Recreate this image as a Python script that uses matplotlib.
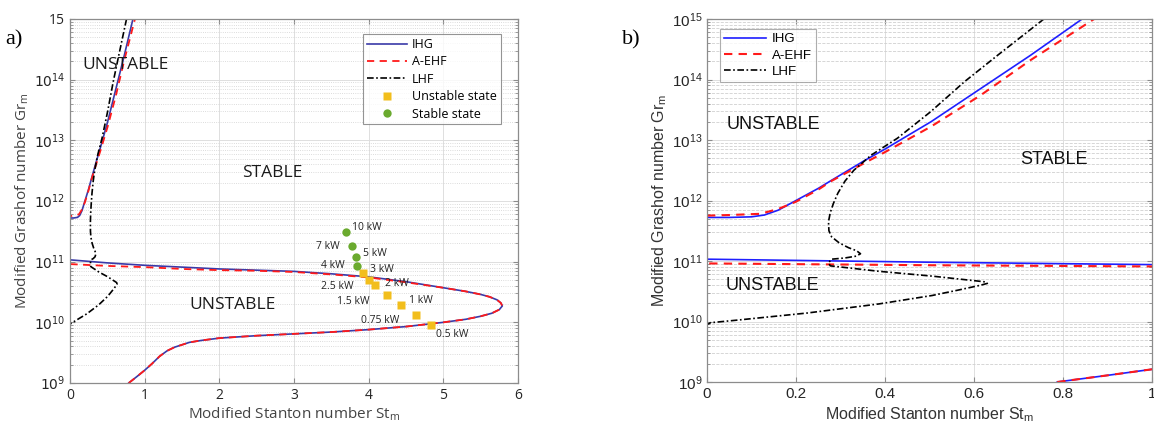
import matplotlib
matplotlib.use("Agg")
import matplotlib.pyplot as plt
import numpy as np
from matplotlib.ticker import LogLocator, NullFormatter, FixedLocator

# ---- data (St_m, log10 Gr_m) ----
ihg_st = [0.787, 0.9, 1.0, 1.1, 1.2, 1.3, 1.4, 1.5, 1.6, 1.75, 2.0, 2.5, 3.0, 3.5, 4.0, 4.5,
          5.0, 5.3, 5.5, 5.65, 5.75, 5.79, 5.77, 5.72, 5.62, 5.5, 5.3, 5.0, 4.5, 4.0, 3.5,
          3.0, 2.5, 2.0, 1.5, 1.0, 0.5, 0.0, 0.0, 0.05, 0.1, 0.129, 0.16, 0.2,
          0.25, 0.279, 0.354, 0.4, 0.503, 0.615, 0.727, 0.843]
ihg_lg = [9.0, 9.11, 9.21, 9.32, 9.44, 9.53, 9.59, 9.63, 9.67, 9.70, 9.74, 9.78, 9.81, 9.84,
          9.88, 9.93, 10.0, 10.05, 10.10, 10.15, 10.21, 10.27, 10.32, 10.37, 10.42, 10.46, 10.51,
          10.57, 10.67, 10.75, 10.80, 10.84, 10.86, 10.88, 10.91, 10.94, 10.98, 11.03, 11.72,
          11.72, 11.73, 11.76, 11.84, 12.0, 12.2, 12.33, 12.66, 12.85, 13.30, 13.85, 14.40, 15.0]

aehf_st = [0.787, 0.9, 1.0, 1.1, 1.2, 1.3, 1.4, 1.5, 1.6, 1.75, 2.0, 2.5, 3.0, 3.5, 4.0, 4.5,
           5.0, 5.3, 5.5, 5.65, 5.75, 5.79, 5.77, 5.72, 5.62, 5.5, 5.3, 5.0, 4.5, 4.0, 3.5,
           3.0, 2.5, 2.0, 1.5, 1.0, 0.5, 0.0, 0.0, 0.05, 0.12, 0.16, 0.2,
           0.25, 0.279, 0.354, 0.4, 0.503, 0.615, 0.727, 0.87]
aehf_lg = [9.0, 9.11, 9.21, 9.32, 9.44, 9.53, 9.59, 9.63, 9.67, 9.70, 9.74, 9.78, 9.81, 9.84,
           9.88, 9.93, 10.0, 10.05, 10.10, 10.15, 10.21, 10.27, 10.32, 10.37, 10.42, 10.46, 10.51,
           10.57, 10.66, 10.74, 10.79, 10.83, 10.85, 10.86, 10.88, 10.91, 10.93, 10.96, 11.75,
           11.76, 11.78, 11.86, 11.98, 12.18, 12.32, 12.62, 12.80, 13.22, 13.74, 14.32, 15.0]

lhf_st = [0.757, 0.653, 0.578, 0.503, 0.428, 0.369, 0.33, 0.31, 0.294, 0.284, 0.277, 0.273,
          0.274, 0.28, 0.297, 0.318, 0.336, 0.345, 0.335, 0.31, 0.28, 0.273, 0.277, 0.386,
          0.506, 0.594, 0.625, 0.63, 0.615, 0.565, 0.506, 0.386, 0.225, 0.064, 0.008, 0.0, 0.0]
lhf_lg = [15.0, 14.40, 13.96, 13.47, 13.03, 12.75, 12.5, 12.32, 12.12, 11.95, 11.8, 11.65,
          11.5, 11.4, 11.30, 11.22, 11.17, 11.12, 11.08, 11.05, 11.03, 10.97, 10.92, 10.83,
          10.75, 10.68, 10.655, 10.63, 10.6, 10.52, 10.43, 10.29, 10.14, 10.02, 9.98, 9.95, 9.0]

stable_st = [3.69, 3.78, 3.83, 3.84]
stable_gr = [3.1e11, 1.8e11, 1.2e11, 8.6e10]
stable_lab = ["10 kW", "7 kW", "5 kW", "4 kW"]

unstable_st = [3.92, 4.00, 4.09, 4.25, 4.43, 4.63, 4.84]
unstable_gr = [6.4e10, 5.0e10, 4.1e10, 2.8e10, 1.96e10, 1.3e10, 9.1e9]
unstable_lab = ["3 kW", "2.5 kW", "2 kW", "1.5 kW", "1 kW", "0.75 kW", "0.5 kW"]

# label offsets in pixels (style only)
stable_off = [(6, 4, "left"), (-12, 0, "right"), (7, 3, "left"), (-12, 0, "right")]
unstable_off = [(7, 4, "left"), (-15, -7, "right"), (10, 2, "left"), (-18, -6, "right"),
                (8, 4, "left"), (-16, -5, "right"), (5, -10, "left")]

BLUE_A = "#3a3aa8"
BLUE_B = "#1f1fff"
RED = "#ff1a1a"
YELLOW = "#f2be1c"
GREEN = "#6aaa2e"
SPINE = "#8c8c8c"

fig = plt.figure(figsize=(11.54, 4.33), dpi=100)
ax1 = fig.add_axes([70 / 1154, 1 - 383 / 433, 448 / 1154, 364 / 433])
ax2 = fig.add_axes([707 / 1154, 1 - 382 / 433, 445 / 1154, 363 / 433])

ihg_gr = 10 ** np.array(ihg_lg)
aehf_gr = 10 ** np.array(aehf_lg)
lhf_gr = 10 ** np.array(lhf_lg)


def style_axes(ax, font, fsize, minor_ls):
    ax.set_yscale("log")
    ax.set_ylim(1e9, 1e15)
    for s in ax.spines.values():
        s.set_color(SPINE)
        s.set_linewidth(0.9)
    ax.tick_params(which="both", direction="in", top=True, right=True, colors=SPINE,
                   labelcolor="#262626", labelsize=fsize)
    ax.yaxis.set_major_locator(FixedLocator([1e9, 1e10, 1e11, 1e12, 1e13, 1e14, 1e15]))
    ax.yaxis.set_minor_locator(LogLocator(base=10, subs=np.arange(2, 10), numticks=20))
    ax.yaxis.set_minor_formatter(NullFormatter())
    ax.grid(True, which="major", color="#dedede", lw=0.7)
    ax.grid(True, which="minor", axis="y", color="#d0d0d0", lw=0.6, ls=minor_ls)
    ax.set_axisbelow(True)
    for lab in ax.get_xticklabels() + ax.get_yticklabels():
        lab.set_family(font)


# ---- panel a ----
ax1.plot(ihg_st, ihg_gr, color=BLUE_A, lw=1.2, label="IHG")
ax1.plot(aehf_st, aehf_gr, color=RED, lw=1.3, ls=(0, (4, 3)), label="A-EHF")
ax1.plot(lhf_st, lhf_gr, color="black", lw=1.2, ls=(0, (4, 1.5, 1, 1.5)), label="LHF")
ax1.plot(unstable_st, unstable_gr, "s", color=YELLOW, ms=5.5, mec="none", label="Unstable state")
ax1.plot(stable_st, stable_gr, "o", color=GREEN, ms=6, mec="none", label="Stable state")
for x, y, t, (dx, dy, ha) in zip(stable_st, stable_gr, stable_lab, stable_off):
    ax1.annotate(t, (x, y), xytext=(dx, dy), textcoords="offset pixels", ha=ha, va="center",
                 fontsize=7.5, family="Open Sans", color="#222222")
for x, y, t, (dx, dy, ha) in zip(unstable_st, unstable_gr, unstable_lab, unstable_off):
    ax1.annotate(t, (x, y), xytext=(dx, dy), textcoords="offset pixels", ha=ha, va="center",
                 fontsize=7.5, family="Open Sans", color="#222222")
ax1.set_xlim(0, 6)
ax1.set_xticks([0, 1, 2, 3, 4, 5, 6])
style_axes(ax1, "Open Sans", 10, ":")
ax1.set_yticklabels(["$10^{9}$", "$10^{10}$", "$10^{11}$", "$10^{12}$", "$10^{13}$",
                     "$10^{14}$", "15"])
for lab in ax1.get_yticklabels():
    lab.set_family("Open Sans")
ax1.set_xlabel("Modified Stanton number St$_\\mathregular{m}$", family="Open Sans",
               fontsize=11, color="#444444", labelpad=2)
ax1.set_ylabel("Modified Grashof number Gr$_\\mathregular{m}$", family="Open Sans",
               fontsize=11, color="#444444", labelpad=2)
ax1.text(0.74, 10 ** 14.24, "UNSTABLE", ha="center", va="center", fontsize=12.5,
         family="Open Sans", color="#1a1a1a")
ax1.text(2.71, 10 ** 12.46, "STABLE", ha="center", va="center", fontsize=12.5,
         family="Open Sans", color="#1a1a1a")
ax1.text(2.18, 10 ** 10.29, "UNSTABLE", ha="center", va="center", fontsize=12.5,
         family="Open Sans", color="#1a1a1a")
leg1 = ax1.legend(loc="upper right", bbox_to_anchor=(0.975, 0.975), prop={"family": "Open Sans", "size": 9},
                  frameon=True, fancybox=False, edgecolor="#7a7a7a", handlelength=3.2,
                  borderpad=0.3, labelspacing=0.35, handletextpad=0.4)
leg1.get_frame().set_linewidth(0.8)

# ---- panel b ----
ax2.plot(ihg_st, ihg_gr, color=BLUE_B, lw=1.2, label="IHG")
ax2.plot(aehf_st, aehf_gr, color=RED, lw=1.5, ls=(0, (4, 3)), label="A-EHF")
ax2.plot(lhf_st, lhf_gr, color="black", lw=1.2, ls=(0, (4, 1.5, 1, 1.5)), label="LHF")
ax2.set_xlim(0, 1)
ax2.set_xticks([0, 0.2, 0.4, 0.6, 0.8, 1])
ax2.set_xticklabels(["0", "0.2", "0.4", "0.6", "0.8", "1"])
style_axes(ax2, "Liberation Sans", 11, "--")
ax2.set_xlabel("Modified Stanton number St$_\\mathregular{m}$", family="Liberation Sans",
               fontsize=11.5, color="#333333", labelpad=3)
ax2.set_ylabel("Modified Grashof number Gr$_\\mathregular{m}$", family="Liberation Sans",
               fontsize=11.5, color="#333333", labelpad=2)
ax2.text(0.15, 10 ** 13.25, "UNSTABLE", ha="center", va="center", fontsize=13,
         family="Liberation Sans", color="#111111")
ax2.text(0.78, 10 ** 12.68, "STABLE", ha="center", va="center", fontsize=13,
         family="Liberation Sans", color="#111111")
ax2.text(0.146, 10 ** 10.60, "UNSTABLE", ha="center", va="center", fontsize=13,
         family="Liberation Sans", color="#111111")
leg2 = ax2.legend(loc="upper left", bbox_to_anchor=(0.015, 0.99), prop={"family": "Liberation Sans", "size": 9.5},
                  frameon=True, fancybox=False, edgecolor="#9a9a9a", handlelength=3.2,
                  borderpad=0.3, labelspacing=0.3, handletextpad=0.4)
leg2.get_frame().set_linewidth(0.8)

fig.text(5 / 1154, 1 - 40 / 433, "a)", family="Liberation Serif", fontsize=16, va="center")
fig.text(622 / 1154, 1 - 40 / 433, "b)", family="Liberation Serif", fontsize=16, va="center")

fig.savefig("out.png", dpi=100)
